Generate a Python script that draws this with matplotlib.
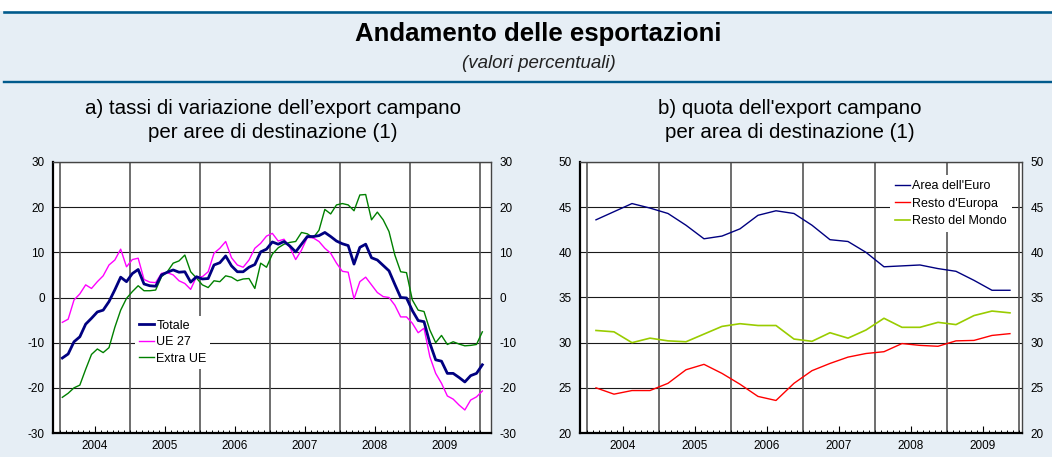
import numpy as np
import matplotlib
matplotlib.use("Agg")
import matplotlib.pyplot as plt
from matplotlib.lines import Line2D
from matplotlib.patches import Rectangle
from matplotlib.ticker import FixedLocator, NullFormatter

plt.rcParams['font.family'] = ['Liberation Sans', 'DejaVu Sans']
plt.rcParams['axes.unicode_minus'] = False

# ---------------- data ----------------
years = [2004, 2005, 2006, 2007, 2008, 2009]
year_labels = ['2004', '2005', '2006', '2007', '2008', '2009']

# panel a: monthly growth rates, Jan 2004 .. Jan 2010 (73 obs)
totale = [-13.4, -12.5, -9.8, -8.7, -5.9, -4.6, -3.2, -2.8, -0.9, 1.7, 4.5, 3.5,
          5.3, 6.2, 3.0, 2.6, 2.5, 5.0, 5.6, 6.1, 5.6, 5.7, 3.4, 4.6,
          4.1, 4.2, 7.2, 7.7, 9.2, 7.0, 5.7, 5.7, 6.7, 7.3, 10.1, 10.7,
          12.3, 11.8, 12.4, 11.4, 10.1, 11.8, 13.5, 13.5, 13.7, 14.4, 13.5, 12.5,
          11.9, 11.5, 7.4, 11.1, 11.8, 8.8, 8.3, 7.1, 5.9, 2.9, 0.0, -0.1,
          -2.9, -5.1, -5.35, -10.1, -13.8, -14.1, -16.8, -16.8, -17.7, -18.7, -17.3, -16.8,
          -14.9]
ue27 = [-5.5, -4.8, -0.55, 0.8, 2.8, 2.0, 3.5, 4.8, 7.2, 8.3, 10.7, 6.8,
        8.4, 8.7, 4.0, 3.4, 3.3, 5.35, 5.5, 5.0, 3.7, 3.1, 1.8, 4.6,
        4.6, 5.7, 9.8, 10.9, 12.4, 8.8, 7.2, 6.7, 8.3, 10.9, 12.0, 13.6,
        14.2, 12.5, 12.9, 11.1, 8.4, 10.5, 13.3, 13.2, 12.4, 10.9, 9.8, 7.6,
        5.8, 5.6, -0.3, 3.5, 4.5, 2.8, 1.1, 0.2, 0.0, -1.7, -4.3, -4.3,
        -5.7, -7.8, -6.8, -13.1, -16.8, -19.0, -21.8, -22.5, -23.8, -24.9, -22.7, -22.0,
        -20.7]
extra_ue = [-22.1, -21.2, -20.0, -19.4, -15.9, -12.6, -11.4, -12.2, -11.1, -6.6, -2.8, -0.2,
            1.3, 2.6, 1.5, 1.5, 1.65, 4.6, 5.7, 7.6, 8.1, 9.4, 5.7, 4.3,
            2.8, 2.2, 3.7, 3.5, 4.8, 4.5, 3.7, 4.1, 4.2, 2.0, 7.6, 6.7,
            9.6, 11.0, 11.8, 12.2, 12.4, 14.4, 14.1, 13.2, 14.9, 19.5, 18.5, 20.5,
            20.8, 20.5, 19.2, 22.7, 22.8, 17.2, 18.9, 17.2, 14.6, 9.4, 5.7, 5.5,
            -0.55, -2.8, -3.1, -7.2, -10.0, -8.4, -10.4, -9.8, -10.3, -10.7, -10.6, -10.4,
            -7.6]

# panel b: quarterly shares, Q1 2004 .. Q4 2009
area_euro = [43.6, 44.5, 45.4, 44.9, 44.3, 43.0, 41.5, 41.8, 42.6, 44.1, 44.6, 44.3,
             43.0, 41.4, 41.2, 40.0, 38.4, 38.5, 38.6, 38.2, 37.9, 36.9, 35.8, 35.8]
resto_europa = [25.0, 24.3, 24.7, 24.7, 25.5, 27.0, 27.6, 26.6, 25.4, 24.05, 23.6, 25.5,
                26.9, 27.7, 28.4, 28.8, 29.0, 29.9, 29.7, 29.6, 30.2, 30.25, 30.8, 31.0]
resto_mondo = [31.35, 31.2, 30.0, 30.5, 30.2, 30.1, 30.95, 31.8, 32.1, 31.9, 31.9, 30.4,
               30.15, 31.1, 30.5, 31.4, 32.7, 31.7, 31.7, 32.25, 32.0, 33.0, 33.5, 33.3]

labels_a = ['Totale', 'UE 27', 'Extra UE']
labels_b = ["Area dell'Euro", "Resto d'Europa", 'Resto del Mondo']

# ---------------- figure ----------------
W, H = 1052, 457
BG = '#e6eef5'
DARK = '#005a8c'
fig = plt.figure(figsize=(W / 100, H / 100), dpi=100, facecolor=BG)

def fx(px):
    return px / W

def fy(py):
    return 1 - py / H

# white top strip and header rules
fig.patches.append(Rectangle((0, fy(10.5)), 1, 1 - fy(10.5), transform=fig.transFigure,
                             facecolor='white', edgecolor='none', zorder=0))
for yy, lw in [(11.8, 2.6), (82.0, 2.4)]:
    fig.add_artist(Line2D([fx(4), 1], [fy(yy), fy(yy)], transform=fig.transFigure,
                          color=DARK, lw=lw * 0.72))

fig.text(fx(538), fy(34), 'Andamento delle esportazioni', ha='center', va='center',
         fontsize=18.5, fontweight='bold', color='black')
fig.text(fx(539), fy(64), '(valori percentuali)', ha='center', va='center',
         fontsize=13.5, style='italic', color='#222222')

fig.text(fx(273), fy(109), 'a) tassi di variazione dell\u2019export campano', ha='center',
         va='center', fontsize=14.8)
fig.text(fx(273), fy(133), 'per aree di destinazione (1)', ha='center', va='center',
         fontsize=14.8)
fig.text(fx(790), fy(109), "b) quota dell'export campano", ha='center', va='center',
         fontsize=14.8)
fig.text(fx(790), fy(133), 'per area di destinazione (1)', ha='center', va='center',
         fontsize=14.8)


def make_axes(x0, x1, y0, y1):
    ax = fig.add_axes([fx(x0), fy(y1), (x1 - x0) / W, (y1 - y0) / H])
    ax.set_facecolor('white')
    return ax


def style_axes(ax, xlim, ylim, yticks):
    ax.set_xlim(*xlim)
    ax.set_ylim(*ylim)
    ax.set_yticks(yticks)
    ax.tick_params(axis='y', which='both', length=0, pad=6, labelsize=8.5,
                   labelleft=True, labelright=True, left=False, right=False)
    ax.set_xticks([y + 0.5 for y in years])
    ax.set_xticklabels(year_labels)
    months = [y + m / 12 for y in years for m in range(12)] + [years[-1] + 1]
    ax.xaxis.set_minor_locator(FixedLocator(months))
    ax.xaxis.set_minor_formatter(NullFormatter())
    ax.tick_params(axis='x', which='major', direction='in', length=5, width=0.8,
                   labelsize=8.5, pad=5, top=False)
    ax.tick_params(axis='x', which='minor', direction='in', length=2.5, width=0.7,
                   top=False)
    for yv in yticks:
        ax.axhline(yv, color='#1a1a1a', lw=0.8, zorder=1)
    for yr in years + [years[-1] + 1]:
        ax.axvline(yr, color='#555555', lw=1.2, zorder=1)
    for s in ['left', 'bottom']:
        ax.spines[s].set_linewidth(1.6)
        ax.spines[s].set_color('black')
    for s in ['top', 'right']:
        ax.spines[s].set_linewidth(1.0)
        ax.spines[s].set_color('#444444')


# ---------------- panel a ----------------
axa = make_axes(53, 491, 162, 433)
xa = np.array([years[0] + (i + 0.4) / 12 for i in range(len(totale))])
style_axes(axa, (2003.9, 2010.157), (-30, 30), list(range(-30, 31, 10)))
axa.plot(xa, extra_ue, color='#008000', lw=1.0, zorder=3, label=labels_a[2])
axa.plot(xa, ue27, color='#ff00ff', lw=1.0, zorder=3, label=labels_a[1])
axa.plot(xa, totale, color='#000080', lw=2.0, zorder=4, label=labels_a[0])
h, l = axa.get_legend_handles_labels()
order = [2, 1, 0]
lega = axa.legend([h[i] for i in order], [l[i] for i in order], loc='upper left',
                  bbox_to_anchor=((135 - 53) / 438, (433 - 316) / 271),
                  frameon=True, facecolor='white', edgecolor='none', framealpha=1,
                  fancybox=False, fontsize=9, handlelength=1.2, handletextpad=0.2,
                  labelspacing=0.36, borderpad=0.3, borderaxespad=0)
lega.set_zorder(5)

# ---------------- panel b ----------------
axb = make_axes(580, 1022, 162, 433)
xb = np.array([years[0] + (i + 0.5) / 4 for i in range(len(area_euro))])
style_axes(axb, (2003.903, 2010.042), (20, 50), list(range(20, 51, 5)))
axb.plot(xb, area_euro, color='#000080', lw=1.0, zorder=3, label=labels_b[0])
axb.plot(xb, resto_europa, color='#ff0000', lw=1.0, zorder=3, label=labels_b[1])
axb.plot(xb, resto_mondo, color='#99cc00', lw=1.2, zorder=3, label=labels_b[2])
legb = axb.legend(loc='upper left', bbox_to_anchor=((890 - 580) / 442, (433 - 175) / 271),
                  frameon=True, facecolor='white', edgecolor='none', framealpha=1,
                  fancybox=False, fontsize=9, handlelength=1.2, handletextpad=0.2,
                  labelspacing=0.45, borderpad=0.4, borderaxespad=0)
legb.set_zorder(5)

fig.savefig('out.png', dpi=100, facecolor=BG)
